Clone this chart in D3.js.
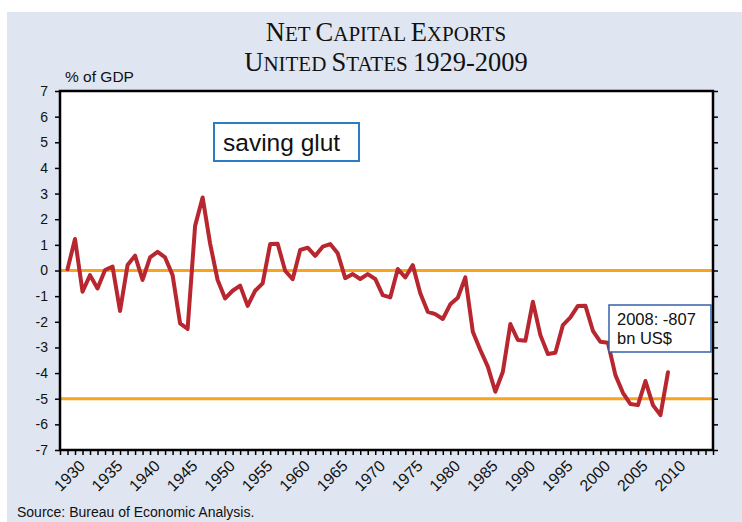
<!DOCTYPE html>
<html>
<head>
<meta charset="utf-8">
<script src="https://cdn.jsdelivr.net/npm/d3@7"></script>
<style>
  body { margin: 0; background: #fff; }
  svg text { font-family: Arial, "Liberation Sans", sans-serif; fill: #111; }
</style>
</head>
<body>
<div id="chart"></div>
<script>
// net capital exports, % of GDP, 1929-2009
const years = d3.range(1929, 2010);
const valeurs = [
  0.05, 1.23, -0.83, -0.18, -0.70, 0.02, 0.15, -1.58, 0.21, 0.58,
  -0.37, 0.51, 0.73, 0.51, -0.18, -2.06, -2.28, 1.74, 2.85, 1.05,
  -0.37, -1.09, -0.79, -0.59, -1.38, -0.79, -0.50, 1.03, 1.04, -0.01,
  -0.34, 0.80, 0.89, 0.57, 0.93, 1.03, 0.67, -0.30, -0.14, -0.33,
  -0.14, -0.33, -0.96, -1.05, 0.06, -0.27, 0.21, -0.89, -1.61, -1.70,
  -1.89, -1.32, -1.06, -0.27, -2.39, -3.10, -3.75, -4.73, -3.95, -2.09,
  -2.71, -2.74, -1.22, -2.52, -3.26, -3.21, -2.13, -1.83, -1.38, -1.37,
  -2.35, -2.78, -2.82, -4.08, -4.77, -5.21, -5.25, -4.31, -5.25, -5.64,
  -3.97
];
const lignesRef = [0, -5];
const yTicks = [7, 6, 5, 4, 3, 2, 1, 0, -1, -2, -3, -4, -5, -6, -7];
const xLabels = [1930, 1935, 1940, 1945, 1950, 1955, 1960, 1965, 1970, 1975, 1980, 1985, 1990, 1995, 2000, 2005, 2010];
// titre en petites capitales : [texte, grande lettre ?]
const titre1 = [["N", true], ["ET ", false], ["C", true], ["APITAL ", false], ["E", true], ["XPORTS", false]];
const titre2 = [["U", true], ["NITED ", false], ["S", true], ["TATES ", false], ["1929-2009", true]];
const noteBox = ["2008: -807", "bn US$"];

const W = 742, H = 522;
const mLeft = 60, mRight = 713, mTop = 91, mBottom = 450;

let svg = d3.select("#chart").append("svg")
  .attr("width", W).attr("height", H);

// fond bleu clair
svg.append("rect").attr("x", 7).attr("y", 12).attr("width", W - 7).attr("height", H - 12)
  .attr("fill", "#dfe6f1");

svg.append("rect").attr("x", mLeft).attr("y", mTop)
  .attr("width", mRight - mLeft).attr("height", mBottom - mTop).attr("fill", "#fff");

let x = d3.scaleLinear().domain([1928, 2015]).range([mLeft, mRight]);
let y = d3.scaleLinear().domain([-7, 7]).range([mBottom, mTop]);

// titre
[titre1, titre2].forEach((morceaux, i) => {
  let t = svg.append("text")
    .attr("x", 386).attr("y", 41 + i * 30)
    .attr("text-anchor", "middle")
    .style("font-family", "'Liberation Serif', 'Times New Roman', serif");
  t.selectAll("tspan").data(morceaux).enter().append("tspan")
    .style("font-size", d => d[1] ? "26.5px" : "21px")
    .text(d => d[0]);
});

svg.append("text").attr("x", 65).attr("y", 82).style("font-size", "15.5px").text("% of GDP");

// lignes de référence orange
svg.selectAll(".ref").data(lignesRef).enter().append("line")
  .attr("x1", mLeft).attr("x2", mRight)
  .attr("y1", d => y(d)).attr("y2", d => y(d))
  .attr("stroke", "#f8a51d").attr("stroke-width", 3);

// axes
let axeGauche = svg.append("g").attr("transform", `translate(${mLeft},0)`)
  .call(d3.axisLeft(y).tickValues(yTicks).tickSize(5).tickPadding(7).tickFormat(d => String(d)));
axeGauche.select(".domain").remove();
axeGauche.selectAll("text").style("font-size", "14px").style("font-family", "Arial, sans-serif");

let axeDroit = svg.append("g").attr("transform", `translate(${mRight},0)`)
  .call(d3.axisRight(y).tickValues(yTicks).tickSize(5).tickFormat(""));
axeDroit.select(".domain").remove();

let axeBas = svg.append("g").attr("transform", `translate(0,${mBottom})`)
  .call(d3.axisBottom(x).tickValues(d3.range(1928, 2016)).tickSize(5).tickFormat(""));
axeBas.select(".domain").remove();
svg.selectAll(".tick line").attr("stroke", "#000").attr("stroke-width", 1.5);

svg.selectAll(".xlab").data(xLabels).enter().append("text")
  .attr("class", "xlab")
  .attr("text-anchor", "end")
  .attr("transform", d => `translate(${x(d) + 7},${mBottom + 13}) rotate(-45)`)
  .attr("dy", "0.35em")
  .style("font-size", "16px")
  .text(d => d);

// cadre
svg.append("rect").attr("x", mLeft).attr("y", mTop)
  .attr("width", mRight - mLeft).attr("height", mBottom - mTop)
  .attr("fill", "none").attr("stroke", "#000").attr("stroke-width", 2.5);

// courbe
let ligne = d3.line().x((d, i) => x(years[i])).y(d => y(d));
svg.append("path").datum(valeurs)
  .attr("d", ligne)
  .attr("fill", "none").attr("stroke", "#b8262f").attr("stroke-width", 4)
  .attr("stroke-linejoin", "round").attr("stroke-linecap", "round");

// annotations
svg.append("rect").attr("x", 214).attr("y", 123).attr("width", 145).attr("height", 38)
  .attr("fill", "#fff").attr("stroke", "#2b7cc4").attr("stroke-width", 2);
svg.append("text").attr("x", 223).attr("y", 151).style("font-size", "24.5px").text("saving glut");

svg.append("rect").attr("x", 609).attr("y", 305).attr("width", 102).attr("height", 47)
  .attr("fill", "#fff").attr("stroke", "#3561a8").attr("stroke-width", 1.5);
svg.selectAll(".note").data(noteBox).enter().append("text")
  .attr("x", 617).attr("y", (d, i) => 325 + i * 19)
  .style("font-size", "16.5px")
  .text(d => d);

svg.append("text").attr("x", 17).attr("y", 517).style("font-size", "14px")
  .text("Source: Bureau of Economic Analysis.");
</script>
</body>
</html>
